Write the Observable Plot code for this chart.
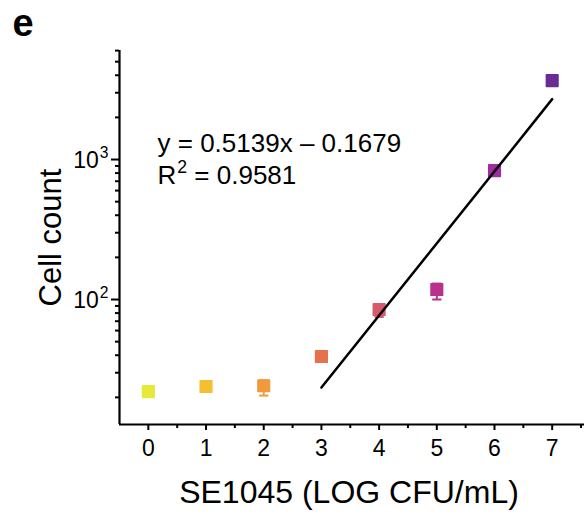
<!DOCTYPE html>
<html>
<head>
<meta charset="utf-8">
<script src="https://cdn.jsdelivr.net/npm/d3@7"></script>
<script src="https://cdn.jsdelivr.net/npm/@observablehq/plot@0.6"></script>
<style>
  html, body { margin: 0; padding: 0; background: #fff; }
  #chart { position: relative; width: 584px; height: 514px; }
  svg { font-family: "Liberation Sans", Arial, sans-serif; }
</style>
</head>
<body>
<div id="chart"></div>
<script>
// Data
const logCFU   = [0, 1, 2, 3, 4, 5, 6, 7];
const cellMean = [22.0, 23.9, 24.2, 39.2, 84.8, 118, 834, 3660];
const cellLow  = [21.4, 23.0, 20.6, 36.0, 75.0, 100, 790, 3450];
const cellHigh = [22.6, 25.0, 26.5, 42.0, 92.0, 130, 870, 3850];
const colors   = ["#e6e83a", "#f4bf30", "#f09a3c", "#e6714c", "#d65a6c", "#b8318c", "#a02ca0", "#6a2c92"];
const fitX     = [3, 7];
const fitY     = [23.5, 2700];
const xTicks   = [0, 1, 2, 3, 4, 5, 6, 7];
const xMinor   = [0.5, 1.5, 2.5, 3.5, 4.5, 5.5, 6.5, 7.5];
const yMajor   = [100, 1000];
const yMajorLabels = ["10²", "10³"];
const yMinor   = [20, 30, 40, 50, 60, 70, 80, 90, 200, 300, 400, 500, 600, 700, 800, 900, 2000, 3000, 4000, 5000, 6000];
const eqLines  = ["y = 0.5139x \u2013 0.1679", "R² = 0.9581"];

const pts = logCFU.map((x, i) => ({x, y: cellMean[i], lo: cellLow[i], hi: cellHigh[i], c: colors[i]}));
const fit = fitX.map((x, i) => ({x, y: fitY[i]}));

const xDom = [-0.5, 7.56];
const yDom = [12.8, 6010];

const plot = Plot.plot({
  width: 584,
  height: 514,
  marginLeft: 119,
  marginRight: 0,
  marginTop: 50,
  marginBottom: 90,
  style: {fontFamily: "Liberation Sans, Arial, sans-serif", background: "#fff", color: "#000"},
  x: {domain: xDom, axis: null},
  y: {type: "log", domain: yDom, axis: null},
  marks: [
    // x axis ticks
    Plot.axisX({ticks: xTicks, tickSize: 6, tickFormat: () => "", strokeWidth: 2, label: null}),
    Plot.axisX({ticks: xMinor, tickSize: 4, tickFormat: () => "", strokeWidth: 2, label: null}),
    // x tick labels
    Plot.text(xTicks, {x: d => d, y: yDom[0], text: d => String(d), dy: 24, fontSize: 23, lineAnchor: "middle"}),
    // y axis ticks
    Plot.axisY({ticks: yMajor, tickSize: 8, tickFormat: () => "", strokeWidth: 2, label: null}),
    Plot.axisY({ticks: yMinor, tickSize: 4, tickFormat: () => "", strokeWidth: 2, label: null}),
    // y tick labels
    Plot.text(yMajor, {x: xDom[0], y: d => d, text: d => yMajorLabels[yMajor.indexOf(d)], dx: -11, dy: 1, fontSize: 23, textAnchor: "end", lineAnchor: "middle"}),
    // axis lines
    Plot.ruleX([xDom[0]], {strokeWidth: 2.2, stroke: "#000"}),
    Plot.ruleY([yDom[0]], {strokeWidth: 2.2, stroke: "#000"}),
    // error bars
    Plot.ruleX(pts, {x: "x", y1: "lo", y2: "hi", stroke: "c", strokeWidth: 2}),
    Plot.link(pts, {x1: d => d.x - 0.08, x2: d => d.x + 0.08, y1: "lo", y2: "lo", stroke: "c", strokeWidth: 2}),
    Plot.link(pts, {x1: d => d.x - 0.08, x2: d => d.x + 0.08, y1: "hi", y2: "hi", stroke: "c", strokeWidth: 2}),
    // points
    Plot.dot(pts, {x: "x", y: "y", symbol: "square", r: 6.4, fill: "c", stroke: "c", strokeWidth: 1.8, strokeLinejoin: "round"}),
    // regression line
    Plot.line(fit, {x: "x", y: "y", stroke: "#000", strokeWidth: 2.5}),
    // equation text
    Plot.text([eqLines[0]], {frameAnchor: "top-left", dx: 38, dy: 93, text: d => d, fontSize: 26, textAnchor: "start", lineAnchor: "middle"}),
    Plot.text([eqLines[1]], {frameAnchor: "top-left", dx: 38, dy: 125, text: d => d, fontSize: 26, textAnchor: "start", lineAnchor: "middle"}),
    // axis titles
    Plot.text(["SE1045 (LOG CFU/mL)"], {frameAnchor: "bottom", dy: 68, dx: -3, text: d => d, fontSize: 32, lineAnchor: "middle"}),
    Plot.text(["Cell count"], {frameAnchor: "left", dx: -68, dy: 0, rotate: -90, text: d => d, fontSize: 31, textAnchor: "middle", lineAnchor: "middle"}),
    // panel letter
    Plot.text(["e"], {frameAnchor: "top-left", dx: -107, dy: -27, text: d => d, fontSize: 38, fontWeight: "bold", lineAnchor: "middle", textAnchor: "start"})
  ]
});
document.getElementById("chart").appendChild(plot);

// Render Unicode superscripts as raised tspans (text stays text)
const SVGNS = "http://www.w3.org/2000/svg";
const supMap = {"²": "2", "³": "3"};
plot.querySelectorAll("text, tspan").forEach(el => {
  if (el.children.length) return;
  const s = el.textContent;
  const m = s.match(/^(.*?)([²³])(.*)$/);
  if (!m) return;
  const fs = parseFloat(getComputedStyle(el).fontSize) || 20;
  const sfs = fs * 0.68;
  const rise = fs * 0.42;
  el.textContent = "";
  el.appendChild(document.createTextNode(m[1]));
  const sup = document.createElementNS(SVGNS, "tspan");
  sup.setAttribute("font-size", sfs);
  sup.setAttribute("dy", -rise);
  sup.setAttribute("dx", 1);
  sup.textContent = supMap[m[2]];
  el.appendChild(sup);
  if (m[3]) {
    const rest = document.createElementNS(SVGNS, "tspan");
    rest.setAttribute("dy", rise);
    rest.textContent = m[3];
    el.appendChild(rest);
  }
});
</script>
</body>
</html>
